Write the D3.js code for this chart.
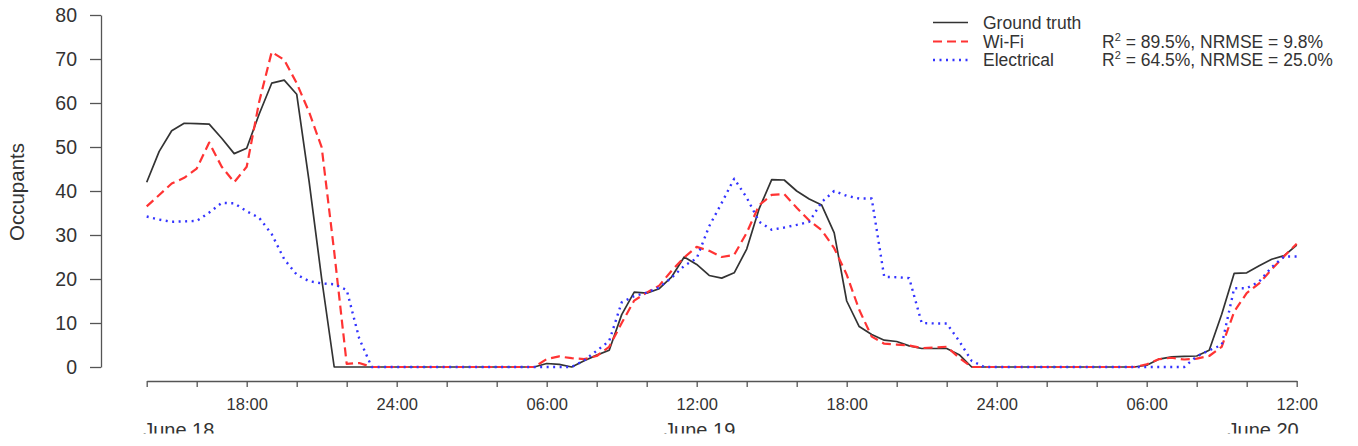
<!DOCTYPE html>
<html>
<head>
<meta charset="utf-8">
<script src="https://cdn.jsdelivr.net/npm/d3@7"></script>
<style>
body { margin: 0; background: #fff; }
svg { display: block; font-family: "Liberation Sans", Arial, Helvetica, sans-serif; }
</style>
</head>
<body>
<svg id="chart" width="1358" height="446"></svg>
<script>
// half-hourly occupancy, 14:00 June 18 -> 12:00 June 20
var groundTruth = [
  42, 49, 53.7, 55.4, 55.3, 55.2, 52, 48.5, 49.7, 57.5, 64.5, 65.2, 62, 42, 20,
  0, 0, 0, 0, 0, 0, 0, 0, 0, 0, 0, 0, 0, 0, 0, 0, 0,
  0.8, 0.6, 0, 1.4, 2.7, 3.8, 11.9, 17, 16.8, 17.8, 20.5, 25, 23.3, 20.8, 20.2, 21.4,
  26.8, 36, 42.6, 42.5, 40, 38.2, 36.8, 30.5, 15, 9.2, 7.4, 6.1, 5.8, 4.8, 4.2, 4.2, 4.2, 2.8, 0,
  0, 0, 0, 0, 0, 0, 0, 0, 0, 0, 0, 0, 0,
  0.4, 1.8, 2.3, 2.4, 2.5, 3.8, 12, 21.3, 21.4, 23, 24.5, 25.3, 27.7
]

var wifi = [
  36.5, 39.1, 41.7, 43.0, 45.1, 51, 45.5, 42.0, 45.5, 60.3, 71.6, 69.8, 64.5, 57.9, 49.9, 26.2, 0.7, 0.9,
  0, 0, 0, 0, 0, 0, 0, 0, 0, 0, 0, 0, 0, 0,
  1.8, 2.4, 2.0, 1.8, 2.5, 4.6, 10, 15.1, 16.9, 18.5, 21.9, 24.9, 27.3, 26.4, 25, 25.5,
  30.5, 36.8, 39.1, 39.3, 36.2, 33.3, 31.1, 27, 21, 13, 6.9, 5.3, 5.1, 4.9, 4.3, 4.4, 4.6, 2.1, 0,
  0, 0, 0, 0, 0, 0, 0, 0, 0, 0, 0, 0, 0,
  0.6, 1.8, 2.1, 1.7, 1.9, 2.5, 4.6, 12.6, 16.8, 19, 22.2, 25.2, 28.0
]

var electrical = [
  34.2, 33.5, 33.0, 33.1, 33.2, 35.1, 37.3, 37.2, 35.4, 33.9, 30.2, 24.5, 21, 19.5, 19, 18.8, 17.5, 6.5,
  0, 0, 0, 0, 0, 0, 0, 0, 0, 0, 0, 0, 0, 0,
  0, 0, 0, 1.5, 3.7, 5.9, 14.7, 16.1, 16.9, 18.1, 20.3, 23, 24.7, 32, 37.3, 42.8,
  38.5, 33, 31.2, 31.7, 32.3, 33, 37.5, 40, 38.9, 38.3, 38.3, 20.5, 20.4, 20.2, 10, 9.9, 9.9, 5.9, 1.4,
  0, 0, 0, 0, 0, 0, 0, 0, 0, 0, 0, 0, 0,
  0, 0, 0, 0, 2.4, 3.8, 5.0, 17.9, 17.9, 19.4, 22.7, 25.1, 25.1
]

var yTicks = [0, 10, 20, 30, 40, 50, 60, 70, 80]
var dateLabels = ['June 18', 'June 19', 'June 20']
var legendNames = ['Ground truth', 'Wi-Fi', 'Electrical']
var legendR2 = [null, '89.5%', '64.5%']
var legendNrmse = [null, '9.8%', '25.0%']

var start = new Date(2015, 5, 18, 14, 0)
,   end = new Date(2015, 5, 20, 12, 0)
,   times = groundTruth.map((d, i) => d3.timeMinute.offset(start, 30 * i))

var svg = d3.select('#chart')

var x = d3.scaleTime().domain([start, end]).range([146.7, 1296.7])
,   y = d3.scaleLinear().domain([0, 80]).range([367, 15])

// y axis
var yAxis = svg.append('g')
  .attr('transform', 'translate(101,0)')
  .call(d3.axisLeft(y).tickValues(yTicks).tickSize(11).tickSizeOuter(0).tickPadding(13))
yAxis.selectAll('path, line').attr('stroke', '#555').attr('stroke-width', 1.3)
yAxis.selectAll('text').attr('font-size', 19.5).attr('fill', '#333').attr('font-family', null)

svg.append('text')
  .attr('transform', 'translate(24,192) rotate(-90)')
  .attr('text-anchor', 'middle')
  .attr('font-size', 20.5)
  .attr('fill', '#333')
  .text('Occupants')

// x axis, a tick every 2 hours, labels every 6
var xTickVals = d3.timeHour.every(2).range(start, d3.timeMinute.offset(end, 1))
var xAxis = svg.append('g')
  .attr('transform', 'translate(0,381)')
  .call(d3.axisBottom(x)
    .tickValues(xTickVals)
    .tickSize(6)
    .tickSizeOuter(0)
    .tickPadding(11)
    .tickFormat((d) => {
      var h = d.getHours()
      if (h % 6 !== 0) return ''
      return (h === 0 ? '24' : d3.timeFormat('%H')(d)) + ':00'
    }))
xAxis.selectAll('path, line').attr('stroke', '#555').attr('stroke-width', 1.3)
xAxis.selectAll('text').attr('font-size', 16.5).attr('fill', '#333').attr('font-family', null)

// date labels, cut off at the bottom like the source figure
svg.append('clipPath').attr('id', 'dateClip')
  .append('rect').attr('x', 0).attr('y', 0).attr('width', 1358).attr('height', 433.5)

var dateAt = [start, new Date(2015, 5, 19, 12, 0), end]
,   dateAnchor = ['start', 'middle', 'end']
,   dateShift = [-3.5, 3, 2]
svg.append('g')
  .attr('clip-path', 'url(#dateClip)')
  .selectAll('text')
  .data(dateLabels)
  .enter()
  .append('text')
  .attr('x', (d, i) => x(dateAt[i]) + dateShift[i])
  .attr('y', 437)
  .attr('text-anchor', (d, i) => dateAnchor[i])
  .attr('font-size', 20)
  .attr('fill', '#333')
  .text((d) => d)

// series
var line = d3.line()
  .x((d, i) => x(times[i]))
  .y((d) => y(d))

var series = [
  {values: groundTruth, color: '#333', width: 1.7, dash: null}
, {values: wifi, color: '#f33', width: 2.2, dash: '9,5'}
, {values: electrical, color: '#33f', width: 2.4, dash: '2,4.5'}
]

svg.append('g').selectAll('path')
  .data(series)
  .enter()
  .append('path')
  .attr('d', (d) => line(d.values))
  .attr('fill', 'none')
  .attr('stroke', (d) => d.color)
  .attr('stroke-width', (d) => d.width)
  .attr('stroke-dasharray', (d) => d.dash)
  .attr('stroke-linejoin', 'round')

// legend
var rowY = [22.5, 41.5, 60]
var legend = svg.append('g')
  .selectAll('g')
  .data(legendNames)
  .enter()
  .append('g')
  .attr('transform', (d, i) => 'translate(0,' + rowY[i] + ')')

legend.append('line')
  .attr('x1', 933).attr('x2', 968)
  .attr('y1', 0).attr('y2', 0)
  .attr('stroke', (d, i) => series[i].color)
  .attr('stroke-width', (d, i) => series[i].width)
  .attr('stroke-dasharray', (d, i) => series[i].dash)

legend.append('text')
  .attr('x', 983)
  .attr('dy', '0.35em')
  .attr('font-size', 17.5)
  .attr('fill', '#333')
  .text((d) => d)

var stats = legend.filter((d, i) => legendR2[i] !== null)
  .append('text')
  .attr('x', 1102)
  .attr('dy', '0.35em')
  .attr('font-size', 17.5)
  .attr('fill', '#333')
stats.append('tspan').text('R')
stats.append('tspan').attr('font-size', 11).attr('dy', -7).text('2')
stats.append('tspan').attr('dy', 7)
  .text((d) => ' = ' + legendR2[legendNames.indexOf(d)] + ', NRMSE = ' + legendNrmse[legendNames.indexOf(d)])
</script>
</body>
</html>
